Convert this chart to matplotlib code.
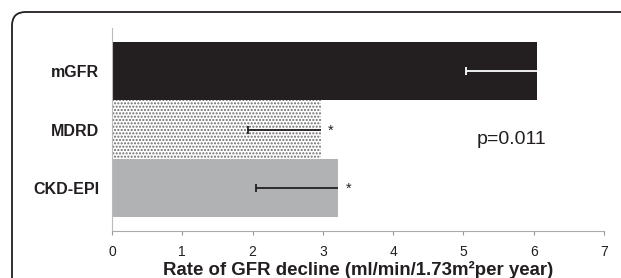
import matplotlib
matplotlib.use("Agg")
import matplotlib.pyplot as plt
from matplotlib.patches import FancyBboxPatch

plt.rcParams["font.family"] = ["Liberation Sans", "DejaVu Sans"]
plt.rcParams["hatch.linewidth"] = 1.0

# data
methods = ["mGFR", "MDRD", "CKD-EPI"]
decline = [6.05, 2.97, 3.22]
err_low = [1.02, 1.04, 1.17]
signif = ["", "*", "*"]
p_text = "p=0.011"

W, H = 621, 278
fig = plt.figure(figsize=(W / 100, H / 100), dpi=100)

# rounded frame round the panel (cut at right and bottom like the source)
frame = FancyBboxPatch((12 / W, -0.3), 1.2, 1.3 - 12 / H,
                       boxstyle="round,pad=0,rounding_size=0.022",
                       transform=fig.transFigure, fill=False,
                       edgecolor="#231f20", linewidth=1.3, mutation_aspect=W / H)
fig.patches.append(frame)

ax = fig.add_axes([112 / W, 1 - 231 / H, 492 / W, 203 / H])

colors = ["#231f20", "white", "#b1b2b4"]
hatches = [None, ".....", None]
y = range(len(methods))
for i in y:
    ax.barh(i, decline[i], height=1.0, color=colors[i], hatch=hatches[i],
            edgecolor="#6a6a6a" if hatches[i] else colors[i], linewidth=0)

for i in y:
    ecol = "white" if i == 0 else "#231f20"
    _, caps, _ = ax.errorbar(decline[i], i, xerr=[[err_low[i]], [0]], fmt="none",
                             ecolor=ecol, elinewidth=1.3, capsize=3, capthick=1.3)
    caps[1].set_visible(False)
    if signif[i]:
        ax.text(decline[i] + 0.1, i + 0.02, signif[i], fontsize=10.5,
                va="center", ha="left", color="#231f20")

ax.text(5.69, 1.18, p_text, fontsize=14, ha="center", va="center", color="#231f20")

ax.set_xlim(0, 7)
ax.set_ylim(2.74, -0.74)
ax.set_yticks(list(y))
ax.set_yticklabels(methods, fontsize=11.5, fontweight="bold", color="#231f20")
ax.tick_params(axis="y", length=0, pad=9)
ax.set_xticks(range(8))
ax.tick_params(axis="x", length=3, direction="out", labelsize=10,
               colors="#999999", labelcolor="#231f20", pad=7)
ax.set_xlabel("Rate of GFR decline (ml/min/1.73m²per year)", fontsize=13.4,
              fontweight="bold", color="#231f20", labelpad=1.5)

for s in ["top", "right"]:
    ax.spines[s].set_visible(False)
ax.spines["left"].set_color("#bbbbbb")
ax.spines["bottom"].set_color("#aaaaaa")

fig.savefig("out.png", dpi=100)
